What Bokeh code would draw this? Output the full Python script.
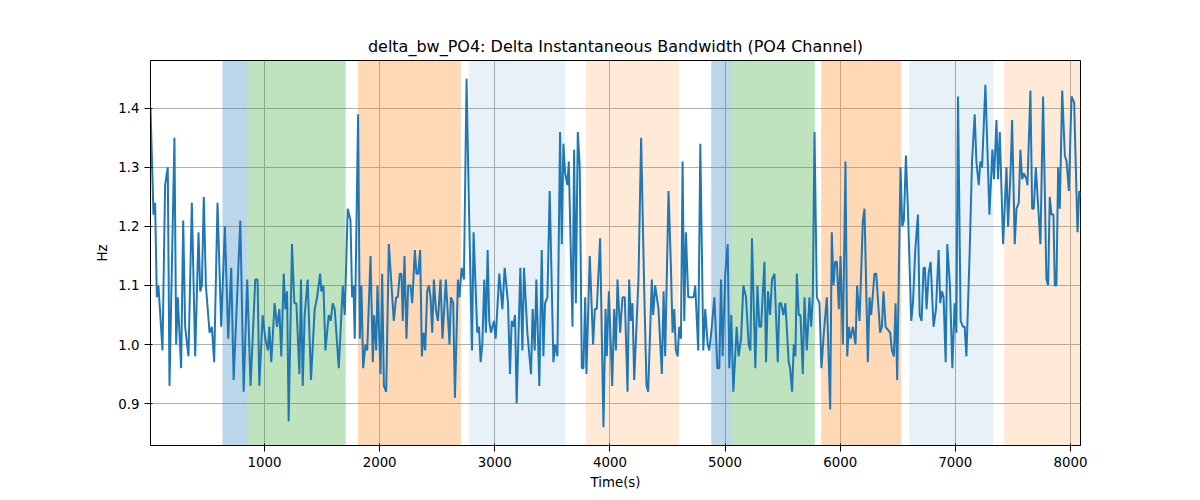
from bokeh.plotting import figure
from bokeh.models import BoxAnnotation, FixedTicker, Range1d, CustomJSTickFormatter
from bokeh.embed import file_html
from bokeh.resources import INLINE

t1 = [10,36,50,65,79,114,137,160,175,218,233,247,276,294,311,340,369,398,427,442,456,473,491,523,543,563,592,624,656,685,711,732,790,819,850,879,920,940,955,984,1007,1030,1042,1059,1088,1109,1129,1146,1167,1181,1196,1210,1239,1259,1277,1303,1317,1332,1349,1375,1404,1436,1457,1483,1494,1512,1529,1558,1575,1593,1610,1645,1680,1697,1723,1747,1761,1773,1784,1813,1828,1842,1857,1877,1892,1921,1941,1952,1970,1981,2008,2022,2037,2057,2080]
v1 = [1.40,1.22,1.24,1.08,1.10,0.99,1.27,1.30,0.93,1.35,1.00,1.08,0.96,1.21,1.03,0.98,1.24,0.98,1.19,1.09,1.10,1.25,1.10,1.02,1.03,0.97,1.24,1.03,1.20,1.01,1.13,0.94,1.21,0.92,1.11,0.93,1.11,1.11,0.93,1.05,1.01,0.99,1.03,0.97,1.07,1.03,1.06,0.98,1.12,1.06,1.09,0.87,1.17,1.07,1.07,0.95,1.11,0.93,1.05,1.11,0.94,1.06,1.08,1.12,1.09,1.10,0.99,1.05,1.04,1.07,1.06,0.96,1.10,1.05,1.23,1.21,1.08,1.10,1.01,1.39,1.01,1.10,0.96,1.00,0.99,1.15,0.97,1.05,0.99,1.10,0.95,1.12,0.93,0.92,1.17]
t2 = [2123,2143,2158,2175,2190,2201,2216,2233,2248,2268,2283,2306,2320,2335,2352,2367,2381,2396,2413,2428,2442,2457,2471,2488,2506,2529,2546,2575,2607,2619,2639,2654,2680,2694,2712,2732,2755,2776,2802,2816,2831,2848,2863,2877,2892,2909,2923,2938,2952,2967,2993,3008,3039,3066,3086,3115,3132,3147,3161,3176,3190,3222,3240,3254,3283,3315,3329,3347,3361,3387,3408,3422,3437,3457,3477,3509,3524,3544,3567,3582,3596,3611,3631,3643,3654,3675,3689,3704,3721,3738,3756,3770,3785,3796,3825,3854,3869,3886,3915,3930,3944,3962,3973,3991,4020,4037,4052,4066,4089]
v2 = [1.04,1.08,1.08,1.12,1.12,1.04,1.15,1.01,1.10,1.10,1.07,1.16,1.12,1.12,1.16,0.98,1.02,0.99,1.09,1.10,1.08,1.02,1.11,1.06,1.04,1.11,1.01,1.11,1.00,1.08,1.07,0.91,1.11,1.08,1.13,1.11,1.45,1.23,0.99,1.19,1.11,1.02,1.03,0.97,1.00,1.11,1.02,1.16,1.04,1.02,1.04,1.01,1.12,1.06,1.13,1.07,0.95,1.04,1.03,1.05,0.90,1.13,0.99,1.13,1.02,0.95,1.06,0.99,1.11,0.93,1.16,0.98,1.07,1.08,1.26,0.97,1.00,0.98,1.36,1.17,1.34,1.29,1.27,1.31,1.21,1.03,1.33,1.07,1.36,1.30,0.96,0.96,1.08,0.95,1.15,1.00,1.06,1.06,1.18,1.01,0.86,1.06,0.98,1.09,0.93,1.06,0.99,1.11,1.02]
t3 = [4109,4129,4153,4167,4182,4196,4211,4248,4271,4298,4318,4332,4364,4376,4393,4422,4451,4466,4480,4509,4530,4544,4559,4573,4588,4602,4617,4631,4646,4660,4680,4704,4727,4741,4767,4785,4811,4828,4849,4863,4880,4907,4933,4950,4965,4979,5002,5023,5037,5054,5072,5101,5118,5139,5159,5182,5205,5220,5234,5263,5281,5298,5313,5342,5356,5373,5391,5408,5429,5458,5472,5487,5507,5524,5553,5565,5582,5597,5611,5623,5640,5655,5675,5690,5710,5733,5748,5762,5777,5797,5820,5837,5858,5884,5913,5927,5942,5956,5971,5988,6003,6023,6046,6061,6075,6090,6110]
v3 = [1.08,1.08,0.92,1.11,1.04,1.07,0.94,1.11,1.35,1.09,0.93,0.92,1.11,1.05,1.10,1.06,0.95,1.09,0.98,1.26,1.13,1.02,1.06,0.99,0.98,1.03,1.01,1.31,1.04,1.19,1.08,1.08,1.08,1.10,0.99,1.34,0.99,1.06,1.00,0.99,1.02,1.08,0.96,0.96,1.11,0.98,1.12,1.17,0.96,1.05,0.92,1.03,0.98,1.01,1.10,1.08,1.00,0.99,1.18,0.96,1.10,1.03,1.03,1.14,0.97,1.09,1.05,1.11,1.12,0.97,1.07,1.07,1.05,1.07,0.97,0.96,0.92,1.00,0.98,1.12,1.05,1.05,0.95,1.08,0.99,1.08,1.03,1.08,1.36,1.08,1.07,0.96,1.02,1.08,0.89,1.19,1.10,1.14,1.14,1.06,1.15,1.00,1.31,0.98,1.03,1.01,1.03]
t4 = [6133,6147,6168,6197,6211,6240,6255,6269,6298,6313,6347,6362,6376,6394,6434,6449,6466,6481,6495,6524,6539,6553,6571,6588,6617,6632,6652,6675,6690,6707,6724,6736,6750,6768,6785,6811,6832,6855,6869,6884,6898,6916,6930,6953,6974,6994,7009,7023,7046,7067,7081,7096,7125,7145,7168,7183,7203,7217,7232,7261,7296,7322,7336,7357,7371,7386,7415,7444,7458,7481,7493,7516,7531,7551,7565,7580,7594,7618,7626,7652,7667,7681,7699,7739,7762,7791,7806,7820,7835,7852,7864,7878,7893,7907,7928,7951,7966,7986,8009,8032,8061,8076,8090]
v4 = [1.00,1.10,1.04,1.21,1.23,0.97,1.08,1.05,1.12,1.12,1.02,1.03,1.09,1.03,1.02,0.99,0.98,1.07,0.94,1.30,1.20,1.21,1.32,1.23,1.04,1.07,1.16,1.22,1.05,1.04,1.13,1.13,1.06,1.12,1.14,1.03,1.06,1.16,1.07,1.09,1.08,0.97,1.17,1.10,0.96,1.07,1.02,1.42,1.04,1.03,1.03,0.98,1.16,1.31,1.39,1.31,1.27,1.31,1.30,1.44,1.22,1.33,1.28,1.38,1.28,1.36,1.17,1.30,1.20,1.30,1.38,1.17,1.23,1.24,1.33,1.28,1.29,1.28,1.27,1.43,1.23,1.23,1.30,1.17,1.42,1.11,1.10,1.25,1.22,1.22,1.10,1.10,1.30,1.23,1.43,1.32,1.31,1.26,1.42,1.41,1.19,1.26,1.25]

band_start = [635, 850, 1810, 2775, 3790, 4880, 5060, 5835, 6600, 7425]
band_end = [850, 1705, 2705, 3610, 4600, 5060, 5780, 6530, 7330, 8087]
band_color = ["#1f77b4", "#2ca02c", "#ff7f0e", "#1f77b4", "#ff7f0e", "#1f77b4", "#2ca02c", "#ff7f0e", "#1f77b4", "#ff7f0e"]
band_alpha = [0.3, 0.3, 0.3, 0.1, 0.16, 0.3, 0.3, 0.3, 0.1, 0.16]

xs, ys = [], []
for t, v in [(t1, v1), (t2, v2), (t3, v3), (t4, v4)]:
    n = min(len(t), len(v))
    xs += t[:n]
    ys += v[:n]

p = figure(width=1184, height=492, output_backend="svg", toolbar_location=None,
           title="delta_bw_PO4: Delta Instantaneous Bandwidth (PO4 Channel)",
           x_range=Range1d(10, 8087), y_range=Range1d(0.829, 1.481),
           min_border_left=150, min_border_right=104, min_border_top=60, min_border_bottom=39)
p.title.align = "center"
p.title.text_font = "DejaVu Sans"
p.title.text_font_size = "12pt"
p.title.text_font_style = "normal"
p.title.text_color = "black"

for s, e, c, a in zip(band_start, band_end, band_color, band_alpha):
    p.add_layout(BoxAnnotation(left=s, right=e, fill_color=c, fill_alpha=a, line_alpha=0, level="underlay"))

p.line(xs, ys, line_color="#1f77b4", line_width=2)

p.xaxis.ticker = FixedTicker(ticks=[1000,2000,3000,4000,5000,6000,7000,8000])
p.yaxis.ticker = FixedTicker(ticks=[0.9,1.0,1.1,1.2,1.3,1.4])
p.yaxis.formatter = CustomJSTickFormatter(code="return tick.toFixed(1);")
p.xaxis.axis_label = "Time(s)"
p.yaxis.axis_label = "Hz"
for ax in (p.xaxis, p.yaxis):
    ax.axis_label_text_font = "DejaVu Sans"
    ax.axis_label_text_font_style = "normal"
    ax.axis_label_text_font_size = "10pt"
    ax.axis_label_text_color = "black"
    ax.major_label_text_font = "DejaVu Sans"
    ax.major_label_text_font_size = "10pt"
    ax.major_label_text_color = "black"
    ax.minor_tick_line_color = None
    ax.axis_line_color = "black"
    ax.major_tick_line_color = "black"
p.xgrid.grid_line_color = "#b0b0b0"
p.ygrid.grid_line_color = "#b0b0b0"
p.outline_line_color = "black"
p.outline_line_alpha = 1

open("out.html", "w").write(file_html(p, INLINE))
